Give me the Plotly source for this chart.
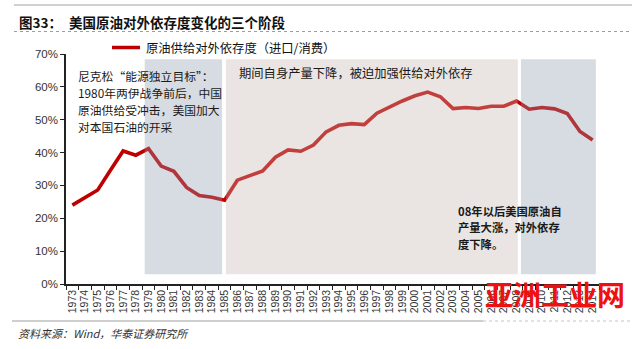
import plotly.graph_objects as go

# US crude oil import dependence (imports / consumption), %
years = [str(y) for y in range(1973, 2015)]
dependence = [
    24.0, 26.2, 28.6, 34.6, 40.5, 39.2, 41.2, 35.9, 34.3, 29.4,
    26.9, 26.4, 25.5, 31.6, 33.1, 34.4, 38.6, 40.8, 40.4, 42.3,
    46.3, 48.3, 48.8, 48.5, 52.0, 54.0, 55.7, 57.3, 58.4, 57.0,
    53.4, 53.7, 53.4, 54.1, 54.1, 55.7, 53.2, 53.7, 53.3, 51.9,
    46.4, 43.8,
]
y_ticks = [0, 10, 20, 30, 40, 50, 60, 70]

# Phase bands, given as positions on the category axis (0 = 1973)
phase_bands = [
    (5.7, 11.8, "rgb(141,155,172)"),
    (12.1, 35.1, "rgb(195,181,172)"),
    (35.35, 41.25, "rgb(141,155,172)"),
]
band_bottom, band_top = 3.0, 68.4

W, H = 640, 349
ML, MR, MT, MB = 66, 41, 54, 65
PW, PH = W - ML - MR, H - MT - MB


def px(x):
    return (x - ML) / PW


def py(y):
    return (H - MB - y) / PH


cjk = "Noto Sans CJK SC"
line_red = "#c00000"

fig = go.Figure()
fig.add_trace(go.Scatter(
    x=years, y=dependence, mode="lines",
    line=dict(color=line_red, width=3.6),
    name="原油供给对外依存度（进口/消费）",
    showlegend=False,
))

shapes = []
for x0, x1, col in phase_bands:
    shapes.append(dict(
        type="rect", xref="x", yref="y", x0=x0, x1=x1,
        y0=band_bottom, y1=band_top, fillcolor=col, opacity=0.35,
        line=dict(width=0), layer="above",
    ))

# legend swatch
shapes.append(dict(type="line", xref="paper", yref="paper",
                   x0=px(112), x1=px(140), y0=py(47.5), y1=py(47.5),
                   line=dict(color=line_red, width=3.5)))
# header rule and red dotted rule under the title
shapes.append(dict(type="line", xref="paper", yref="paper",
                   x0=px(14), x1=px(632), y0=py(5), y1=py(5),
                   line=dict(color="#d0d0d0", width=2)))
shapes.append(dict(type="line", xref="paper", yref="paper",
                   x0=px(14), x1=px(632), y0=py(31.5), y1=py(31.5),
                   line=dict(color="#c98c8c", width=1, dash="dot")))
# footer rule
shapes.append(dict(type="line", xref="paper", yref="paper",
                   x0=px(12), x1=px(483), y0=py(321), y1=py(321),
                   line=dict(color="#cfcfcf", width=2)))
shapes.append(dict(type="line", xref="paper", yref="paper",
                   x0=px(483), x1=px(632), y0=py(321), y1=py(321),
                   line=dict(color="#e2e2e2", width=2, dash="dot")))

note_left = ["尼克松“能源独立目标”：", "1980年两伊战争前后，中国",
             "原油供给受冲击，美国加大", "对本国石油的开采"]
note_right = ["08年以后美国原油自", "产量大涨，对外依存", "度下降。"]

annotations = [
    dict(text="<b>图33：</b>", x=px(17), y=py(21.5), xanchor="left", yanchor="middle",
         font=dict(family=cjk, size=13.5, color="#111")),
    dict(text="<b>美国原油对外依存度变化的三个阶段</b>", x=px(67), y=py(21.5),
         xanchor="left", yanchor="middle",
         font=dict(family=cjk, size=13.5, color="#111")),
    dict(text="原油供给对外依存度（进口/消费）", x=px(144), y=py(47.5),
         xanchor="left", yanchor="middle",
         font=dict(family=cjk, size=12.3, color="#111")),
    dict(text="期间自身产量下降，被迫加强供给对外依存",
         x=px(237), y=py(73.5), xanchor="left", yanchor="middle",
         font=dict(family=cjk, size=12.3, color="#1a1a1a")),
    dict(text="<i>资料来源：Wind，华泰证券研究所</i>", x=px(16), y=py(333),
         xanchor="left", yanchor="middle",
         font=dict(family=cjk, size=11, color="#333")),
    dict(text="<b>亚洲工业网</b>", x=px(555), y=py(294), xanchor="center", yanchor="middle",
         font=dict(family=cjk, size=28, color="#ee1111")),
]
# multi-line notes, one annotation per line for even spacing
for i, line in enumerate(note_left):
    annotations.append(dict(text=line, x=px(76), y=py(75 + 17.2 * i),
                            xanchor="left", yanchor="middle",
                            font=dict(family=cjk, size=11.8, color="#1a1a1a")))
for i, line in enumerate(note_right):
    annotations.append(dict(text=f"<b>{line}</b>", x=px(456), y=py(211 + 16.4 * i),
                            xanchor="left", yanchor="middle",
                            font=dict(family=cjk, size=11.3, color="#1a1a1a")))
for a in annotations:
    a.update(xref="paper", yref="paper", showarrow=False)

fig.update_layout(
    width=W, height=H,
    margin=dict(l=ML, r=MR, t=MT, b=MB, pad=0),
    paper_bgcolor="white", plot_bgcolor="white",
    shapes=shapes, annotations=annotations,
    xaxis=dict(
        type="category", range=[-0.5, 41.5], tickangle=-90,
        tickmode="array", tickvals=years, ticktext=years,
        tickson="boundaries", ticks="outside", ticklen=4, tickcolor="#222",
        showline=True, linecolor="#222", linewidth=1.5,
        showgrid=False, zeroline=False,
        tickfont=dict(family="Liberation Sans Narrow, Arial Narrow, Liberation Sans",
                      size=10.5, color="#333"),
    ),
    yaxis=dict(
        range=[0, 70], tickvals=y_ticks, ticktext=[f"{v}%" for v in y_ticks],
        ticks="outside", ticklen=4, tickcolor="#222",
        showline=True, linecolor="#222", linewidth=1.5,
        showgrid=False, zeroline=False,
        tickfont=dict(family="Liberation Sans, Arial", size=11.5, color="#333"),
    ),
)

fig.write_html("out.html")
